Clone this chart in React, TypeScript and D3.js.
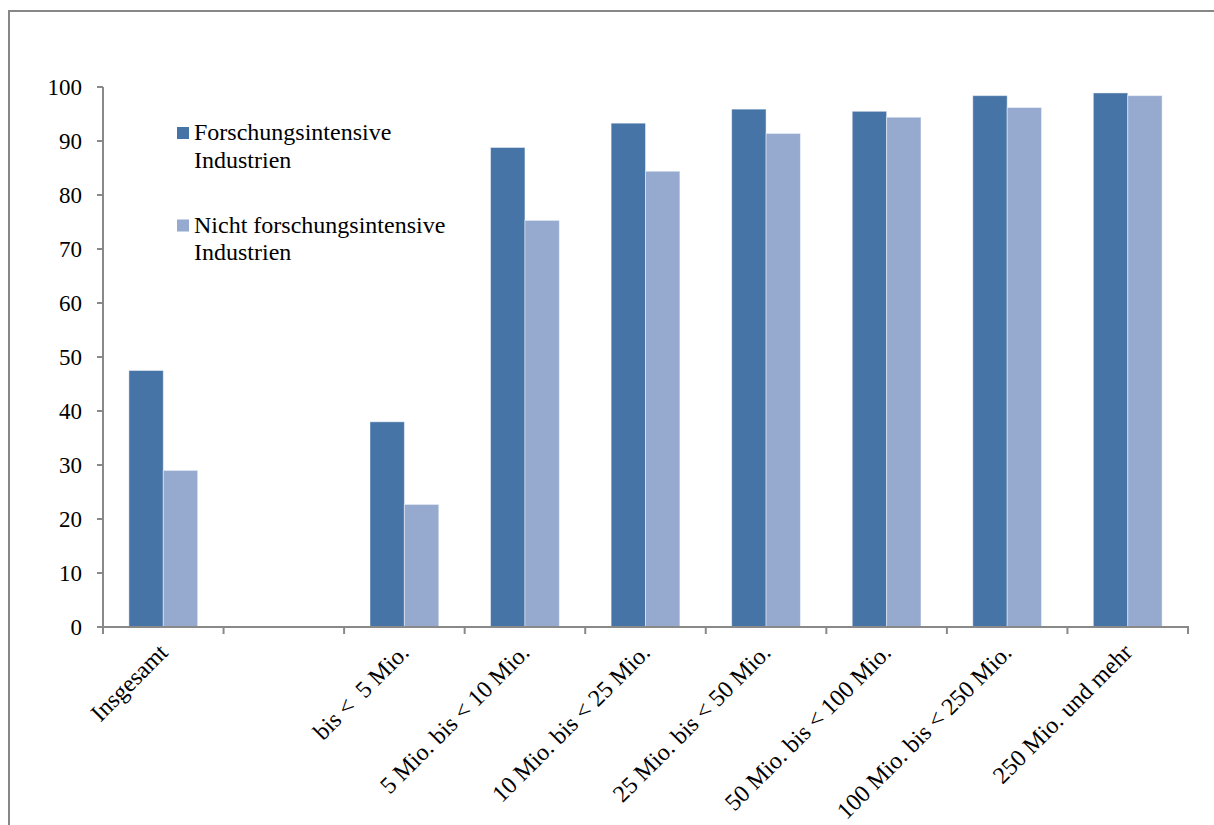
import React from "react";
import * as d3 from "d3";

const categories = [
  "Insgesamt",
  "",
  "bis <  5 Mio.",
  "5 Mio. bis < 10 Mio.",
  "10 Mio. bis < 25 Mio.",
  "25 Mio. bis < 50 Mio.",
  "50 Mio. bis < 100 Mio.",
  "100 Mio. bis < 250 Mio.",
  "250 Mio. und mehr",
];
const seriesNames = ["Forschungsintensive Industrien", "Nicht forschungsintensive Industrien"];
const forschung: (number | null)[] = [47.5, null, 38.0, 88.8, 93.3, 95.9, 95.5, 98.4, 98.9];
const nichtForschung: (number | null)[] = [29.0, null, 22.7, 75.3, 84.4, 91.4, 94.4, 96.2, 98.4];
const yTicks = [0, 10, 20, 30, 40, 50, 60, 70, 80, 90, 100];
const legendLines = [
  ["Forschungsintensive", "Industrien"],
  ["Nicht forschungsintensive", "Industrien"],
];

const colors = ["#4674a6", "#96aad0"];
const FONT = "Liberation Serif";

export default function App() {
  const W = 1214, H = 825;
  const left = 103, right = 1188, top = 87, bottom = 627;
  const x = d3.scaleBand<string>().domain(categories.map((_, i) => String(i))).range([left, right]).paddingInner(0).paddingOuter(0);
  const x1 = d3.scaleBand<string>().domain(["0", "1"]).range([0, x.bandwidth()]).paddingInner(0).paddingOuter(0.753);
  const y = d3.scaleLinear().domain([0, 100]).range([bottom, top]);
  const data = [forschung, nichtForschung];
  const boundaries = d3.range(categories.length + 1).map((i) => left + i * x.bandwidth());

  return (
    <svg width={W} height={H} style={{ position: "absolute", left: 0, top: 0, background: "#fff", fontFamily: FONT }}>
      <rect x={9} y={11} width={1230} height={840} fill="#fff" stroke="#878787" strokeWidth={2} />
      {categories.map((c, i) => (
        <g key={i} transform={`translate(${x(String(i))},0)`}>
          {data.map((s, si) => {
            const v = s[i];
            if (v == null) return null;
            return (
              <rect
                key={si}
                x={x1(String(si))}
                y={y(v)}
                width={x1.bandwidth()}
                height={y(0) - y(v)}
                fill={colors[si]}
                stroke="#ffffff"
                strokeOpacity={0.45}
                strokeWidth={1}
              />
            );
          })}
        </g>
      ))}
      <line x1={left} x2={left} y1={y(100)} y2={y(0)} stroke="#898989" strokeWidth={2} />
      {yTicks.map((t) => (
        <g key={t}>
          <line x1={left - 6} x2={left} y1={y(t)} y2={y(t)} stroke="#898989" strokeWidth={2} />
          <text x={82} y={y(t)} dy="0.35em" textAnchor="end" fontSize={23} fill="#000">
            {t}
          </text>
        </g>
      ))}
      <line x1={left - 1} x2={right + 1} y1={bottom} y2={bottom} stroke="#898989" strokeWidth={2} />
      {boundaries.map((b, i) => (
        <line key={i} x1={b} x2={b} y1={bottom} y2={bottom + 7} stroke="#898989" strokeWidth={2} />
      ))}
      {categories.map((c, i) => (
        <text
          key={i}
          transform={`translate(${(x(String(i)) as number) + x.bandwidth() / 2},${648}) rotate(-45)`}
          textAnchor="end"
          dy="0.35em"
          fontSize={24}
          fill="#000"
          style={{ whiteSpace: "pre" }}
        >
          {c}
        </text>
      ))}
      {seriesNames.map((n, i) => {
        const baseY = 140 + i * 92.5;
        return (
          <g key={n}>
            <rect x={177} y={baseY - 13} width={12} height={12} fill={colors[i]} />
            {legendLines[i].map((l, li) => (
              <text key={li} x={194} y={baseY + li * 27.7} fontSize={24} fill="#000">
                {l}
              </text>
            ))}
          </g>
        );
      })}
    </svg>
  );
}
